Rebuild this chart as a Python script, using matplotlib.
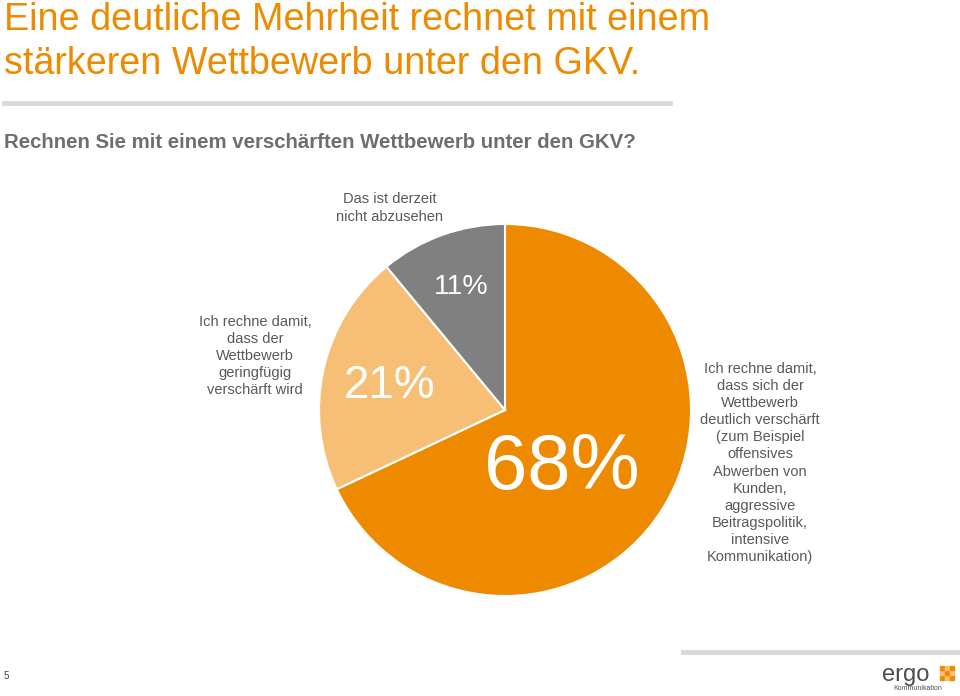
import matplotlib
matplotlib.use("Agg")
import matplotlib.pyplot as plt
from matplotlib.patches import Rectangle

plt.rcParams['font.family'] = ['Liberation Sans', 'DejaVu Sans']

# data
categories = ["Ich rechne damit, dass sich der Wettbewerb deutlich verschärft",
              "Ich rechne damit, dass der Wettbewerb geringfügig verschärft wird",
              "Das ist derzeit nicht abzusehen"]
values = [68, 21, 11]
pct_labels = ["68%", "21%", "11%"]
colors = ["#EE8A00", "#F6BF75", "#808080"]

title = "Eine deutliche Mehrheit rechnet mit einem\nstärkeren Wettbewerb unter den GKV."
question = "Rechnen Sie mit einem verschärften Wettbewerb unter den GKV?"
label_right = ("Ich rechne damit,\ndass sich der\nWettbewerb\ndeutlich verschärft\n(zum Beispiel\n"
               "offensives\nAbwerben von\nKunden,\naggressive\nBeitragspolitik,\nintensive\nKommunikation)")
label_left = "Ich rechne damit,\ndass der\nWettbewerb\ngeringfügig\nverschärft wird"
label_top = "Das ist derzeit\nnicht abzusehen"

W, H = 960, 696
fig = plt.figure(figsize=(W / 100, H / 100), dpi=100)
fig.patch.set_facecolor("white")

def fx(x):
    return x / W

def fy(y):
    return 1 - y / H

# title
fig.text(fx(4), fy(30), title.split("\n")[0], color="#EE8A00", fontsize=27.2,
         va="baseline", ha="left")
fig.text(fx(4), fy(74), title.split("\n")[1], color="#EE8A00", fontsize=27.2,
         va="baseline", ha="left")
# separator line
fig.add_artist(plt.Line2D([fx(4), fx(670)], [fy(103), fy(103)], color="#D9D9D9", lw=3.5))
# question
fig.text(fx(4), fy(142), question, color="#6E6E6E", fontsize=14.7, fontweight="bold",
         va="center", ha="left")

# pie
cx, cy, r = 505, 410, 186
ax = fig.add_axes([fx(cx - r), fy(cy + r), fx(2 * r), (2 * r) / H])
ax.pie(values, colors=colors, startangle=90, counterclock=False,
       wedgeprops=dict(edgecolor="white", linewidth=1.5))
ax.set_aspect("equal")
ax.set_xlim(-1, 1)
ax.set_ylim(-1, 1)
ax.axis("off")

# percentage labels
pct_pos = [(562, 468, 56), (390, 386, 33), (461, 287, 20.5)]
for lab, (px, py, fs) in zip(pct_labels, pct_pos):
    fig.text(fx(px), fy(py), lab, color="white", fontsize=fs, ha="center", va="center")

# category labels
lab_color = "#595959"
fig.text(fx(390), fy(208), label_top, color=lab_color, fontsize=10.5, ha="center",
         va="center", linespacing=1.28)
fig.text(fx(255), fy(356), label_left, color=lab_color, fontsize=10.5, ha="center",
         va="center", linespacing=1.28)
fig.text(fx(760), fy(463), label_right, color=lab_color, fontsize=10.5, ha="center",
         va="center", linespacing=1.28)

# footer
fig.add_artist(plt.Line2D([fx(683), fx(960)], [fy(652), fy(652)], color="#D9D9D9", lw=3.5))
fig.text(fx(4), fy(676), "5", color="#404040", fontsize=7, ha="left", va="center")
fig.text(fx(906), fy(675), "ergo", color="#4D4D4D", fontsize=17, ha="center",
         va="center")
# small orange grid of the logo
sq = 4
for i in range(3):
    for j in range(3):
        fig.add_artist(Rectangle((fx(940 + j * (sq + 1)), fy(680 - i * (sq + 1))),
                                 sq / W, sq / H, color="#EE8A00" if (i + j) % 2 == 0 else "#F6BF75",
                                 transform=fig.transFigure))
fig.text(fx(918), fy(688), "Kommunikation", color="#4D4D4D", fontsize=5, ha="center",
         va="center")

fig.savefig("out.png", dpi=100, facecolor="white")
